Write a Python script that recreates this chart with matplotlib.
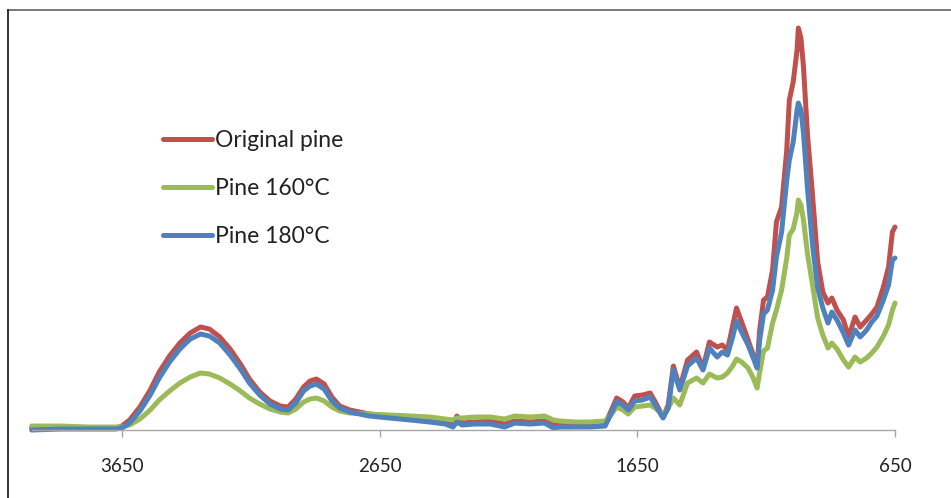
import matplotlib
matplotlib.use('Agg')
import matplotlib.pyplot as plt
from matplotlib.lines import Line2D

# wavenumber (cm-1)
wavenumber = [4000, 3890, 3775, 3675, 3650, 3620, 3580, 3540, 3505, 3465,
              3425, 3385, 3345, 3310, 3270, 3230, 3190, 3155, 3115, 3075,
              3035, 3005, 2975, 2945, 2920, 2895, 2865, 2835, 2805, 2765,
              2690, 2610, 2530, 2455, 2395, 2365, 2350, 2330, 2280, 2220,
              2165, 2125, 2065, 2010, 1975, 1950, 1890, 1835, 1775, 1750,
              1730, 1705, 1685, 1660, 1630, 1600, 1580, 1550, 1530, 1510,
              1485, 1455, 1420, 1395, 1370, 1340, 1320, 1300, 1280, 1265,
              1245, 1220, 1200, 1185, 1175, 1160, 1145, 1125, 1110, 1090,
              1070, 1060, 1045, 1030, 1025, 1015, 1005, 990, 970, 950,
              930, 910, 895, 875, 850, 830, 805, 785, 760, 740,
              720, 695, 675, 660, 650]

original_pine = [.002, .002, .002, .002, .004, .010, .023, .040, .058, .074,
                 .087, .097, .103, .101, .093, .081, .066, .051, .038, .029,
                 .024, .023, .031, .043, .049, .051, .046, .033, .024, .020,
                 .016, .014, .012, .010, .008, .006, .014, .007, .008, .009,
                 .006, .009, .008, .009, .005, .006, .005, .005, .006, .020,
                 .032, .028, .022, .034, .035, .037, .028, .013, .025, .064,
                 .042, .070, .078, .062, .088, .083, .085, .080, .104, .122,
                 .108, .090, .075, .064, .100, .130, .133, .160, .208, .223,
                 .280, .330, .348, .380, .402, .392, .363, .297, .235, .168,
                 .138, .127, .132, .120, .110, .093, .113, .103, .110, .116,
                 .123, .143, .163, .198, .203]

pine_160 = [.004, .004, .003, .003, .003, .005, .011, .020, .030, .039,
            .047, .053, .057, .056, .052, .046, .039, .032, .026, .021,
            .018, .017, .021, .028, .031, .032, .029, .023, .019, .017,
            .016, .015, .014, .013, .011, .010, .012, .012, .013, .013,
            .011, .014, .013, .014, .010, .009, .008, .008, .009, .016,
            .023, .020, .016, .023, .024, .025, .022, .015, .022, .032,
            .025, .047, .052, .047, .056, .052, .053, .057, .064, .071,
            .068, .062, .052, .042, .058, .079, .082, .107, .120, .140,
            .172, .195, .201, .218, .230, .225, .210, .177, .145, .112,
            .095, .082, .087, .081, .070, .063, .073, .068, .072, .077,
            .083, .094, .105, .120, .127]

pine_180 = [.000, .001, .001, .001, .002, .007, .019, .035, .052, .068,
            .081, .091, .096, .094, .087, .075, .061, .047, .035, .026,
            .021, .020, .027, .039, .044, .046, .041, .029, .022, .018,
            .014, .012, .010, .008, .006, .003, .008, .005, .006, .006,
            .003, .007, .006, .007, .002, .003, .003, .003, .004, .017,
            .028, .025, .020, .029, .030, .033, .025, .012, .022, .060,
            .040, .064, .072, .060, .082, .073, .078, .075, .093, .109,
            .098, .085, .072, .062, .090, .116, .120, .140, .173, .198,
            .250, .270, .288, .320, .327, .320, .297, .243, .185, .142,
            .122, .107, .118, .110, .097, .085, .100, .093, .100, .108,
            .114, .130, .145, .170, .172]

series = [('Original pine', original_pine, '#C0504D'),
          ('Pine 160°C', pine_160, '#9BBB59'),
          ('Pine 180°C', pine_180, '#4F81BD')]
xticks = [3650, 2650, 1650, 650]

assert len(wavenumber) == len(original_pine) == len(pine_160) == len(pine_180)

plt.rcParams['font.family'] = ['Lato', 'DejaVu Sans']

fig = plt.figure(figsize=(9.51, 4.98), dpi=100)
ax = fig.add_axes([0.0333, 0.1365, 0.9078, 0.8233])

for name, vals, col in series:
    ax.plot(wavenumber, vals, color=col, lw=3.6, label=name,
            solid_capstyle='round', solid_joinstyle='round', clip_on=False)

ax.set_xlim(4000, 650)
ax.set_ylim(0, 0.41)
ax.set_xticks(xticks)
ax.set_xticklabels([str(t) for t in xticks], fontsize=13.5, color='#222222')
ax.set_yticks([])
for s in ['top', 'right', 'left']:
    ax.spines[s].set_visible(False)
ax.spines['bottom'].set_color('#a6a6a6')
ax.spines['bottom'].set_linewidth(1.0)
ax.tick_params(axis='x', direction='out', length=5, width=1.0,
               color='#a6a6a6', pad=15.5)

leg = ax.legend(loc='upper left', bbox_to_anchor=(0.1714, 0.7398),
                bbox_transform=fig.transFigure, frameon=False,
                fontsize=16.5, handlelength=2.14, handletextpad=0.13,
                labelspacing=1.19, borderpad=0, borderaxespad=0)
for t in leg.get_texts():
    t.set_color('#222222')

# outer frame of the exported picture (top and left edges only)
fig.add_artist(Line2D([8 / 951, 1], [1 - 10 / 498, 1 - 10 / 498],
                      transform=fig.transFigure, color='#6e6e6e', lw=1.3))
fig.add_artist(Line2D([8 / 951, 8 / 951], [0, 1 - 10 / 498],
                      transform=fig.transFigure, color='#222222', lw=1.3))

fig.savefig('out.png', dpi=100)
